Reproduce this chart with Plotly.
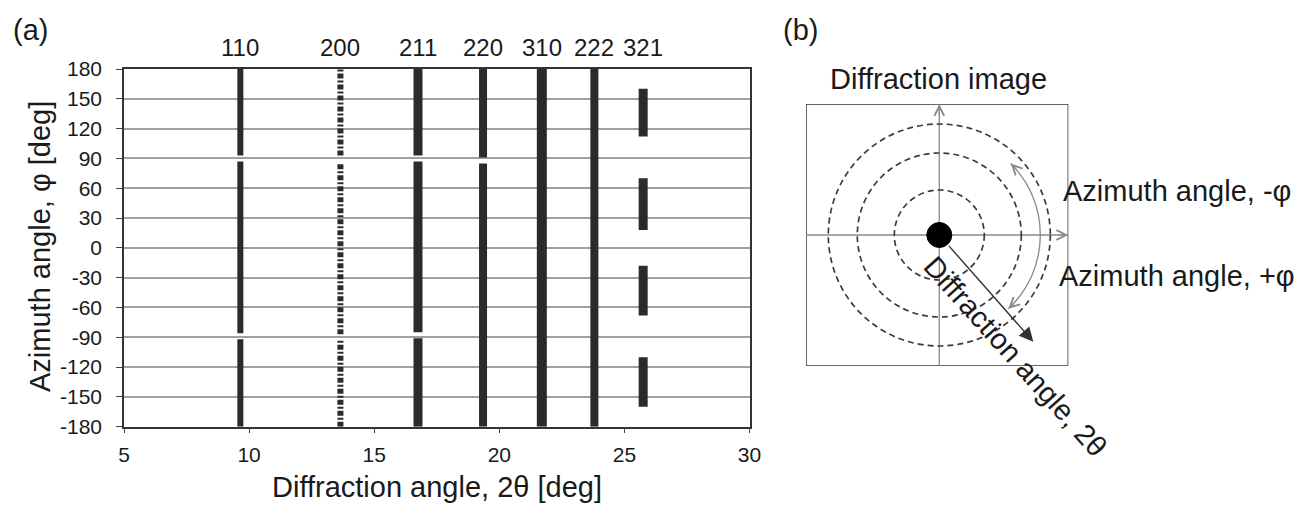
import math
import plotly.graph_objects as go

W, H = 1309, 506

# ---------------- data (panel a) ----------------
peak_labels = ["110", "200", "211", "220", "310", "222", "321"]
peak_two_theta = [9.65, 13.65, 16.75, 19.35, 21.7, 23.8, 25.75]
# azimuth ranges (deg) where diffraction spots are present, per ring
phi_segments = [
    [(-180, -92), (-86, 87), (93, 180)],                       # 110
    [(-180, -93), (-87, 86), (93, 180)],                       # 200
    [(-180, -91), (-85, 87), (93, 180)],                       # 211
    [(-180, 85), (91, 180)],                                   # 220
    [(-180, 180)],                                             # 310
    [(-180, 180)],                                             # 222
    [(-160, -110), (-68, -18), (18, 70), (112, 160)],          # 321
]
x_ticks = [5, 10, 15, 20, 25, 30]
y_ticks = [-180, -150, -120, -90, -60, -30, 0, 30, 60, 90, 120, 150, 180]
y_tick_text = ["-180", "-150", "-120", "-90", "-60", "-30", "0", "30", "60", "90", "120", "150", "180"]

# ---------------- data (panel b, schematic) ----------------
ring_radii = [45, 82, 111]
spot_radius = 12.5

# styles
band_widths = [6, 6, 9, 8, 10, 8, 9]
band_dash = ["solid", "5px,2px,2px,2px", "solid", "solid", "solid", "solid", "solid"]
INK = "#2b2b2b"
FONT = "Arial, Liberation Sans, sans-serif"


def px(x):
    return x / W


def py(y):
    return 1 - y / H


fig = go.Figure()

for lab, tt, segs, w, d in zip(peak_labels, peak_two_theta, phi_segments, band_widths, band_dash):
    xs, ys = [], []
    for a, b in segs:
        xs += [tt, tt, None]
        ys += [a, b, None]
    fig.add_trace(go.Scatter(x=xs, y=ys, mode="lines", name=lab,
                             line=dict(color=INK, width=w, dash=d),
                             showlegend=False, hoverinfo="skip", xaxis="x", yaxis="y"))

# ---------------- panel b geometry (pixel-like units around centre) ----------------
cx, cy = 939.3, 235.0
bx0, bx1, by0, by1 = 806.0, 1068.3, 104.0, 365.7
xr = [bx0 - cx, bx1 - cx]
yr = [cy - by1, cy - by0]

fig.add_trace(go.Scatter(x=[0], y=[0], mode="markers", marker=dict(size=1, opacity=0),
                         showlegend=False, hoverinfo="skip", xaxis="x2", yaxis="y2"))

shapes = []
# box
shapes.append(dict(type="rect", xref="x2", yref="y2", x0=xr[0], x1=xr[1], y0=yr[0], y1=yr[1],
                   line=dict(color="#333333", width=1.5)))
# cross lines
shapes.append(dict(type="line", xref="x2", yref="y2", x0=0, x1=0, y0=yr[0], y1=yr[1],
                   line=dict(color="#8a8a8a", width=1.3)))
shapes.append(dict(type="line", xref="x2", yref="y2", x0=xr[0], x1=xr[1], y0=0, y1=0,
                   line=dict(color="#8a8a8a", width=1.3)))
# dashed rings
for r in ring_radii:
    shapes.append(dict(type="circle", xref="x2", yref="y2", x0=-r, x1=r, y0=-r, y1=r,
                       line=dict(color="#3c3c3c", width=1.7, dash="6px,4px")))
# azimuth arc
ra = 101.0
t1, t2 = math.radians(45), math.radians(-47)
k = 4 / 3 * math.tan((t1 - t2) / 4)
P0 = (ra * math.cos(t1), ra * math.sin(t1))
P3 = (ra * math.cos(t2), ra * math.sin(t2))
P1 = (P0[0] + k * ra * math.sin(t1), P0[1] - k * ra * math.cos(t1))
P2 = (P3[0] - k * ra * math.sin(t2), P3[1] + k * ra * math.cos(t2))
shapes.append(dict(type="path", xref="x2", yref="y2",
                   path=f"M {P0[0]},{P0[1]} C {P1[0]},{P1[1]} {P2[0]},{P2[1]} {P3[0]},{P3[1]}",
                   line=dict(color="#8a8a8a", width=1.3)))
# beam spot
shapes.append(dict(type="circle", xref="x2", yref="y2", x0=-spot_radius, x1=spot_radius,
                   y0=-spot_radius, y1=spot_radius, fillcolor="black", line=dict(color="black", width=1)))

annotations = []
# arrow heads of cross lines
annotations.append(dict(xref="x2", yref="y2", axref="x2", ayref="y2", x=0, y=yr[1], ax=0, ay=yr[1] - 12,
                        text="", showarrow=True, arrowhead=5, arrowsize=1.6, arrowwidth=1.2,
                        arrowcolor="#8a8a8a"))
annotations.append(dict(xref="x2", yref="y2", axref="x2", ayref="y2", x=xr[1], y=0, ax=xr[1] - 12, ay=0,
                        text="", showarrow=True, arrowhead=5, arrowsize=1.6, arrowwidth=1.2,
                        arrowcolor="#8a8a8a"))
# arc arrow heads (tangent directions)
d1 = (-math.sin(t1), math.cos(t1))
annotations.append(dict(xref="x2", yref="y2", axref="x2", ayref="y2", x=P0[0], y=P0[1],
                        ax=P0[0] - 10 * d1[0], ay=P0[1] - 10 * d1[1],
                        text="", showarrow=True, arrowhead=5, arrowsize=1.6, arrowwidth=1.2,
                        arrowcolor="#8a8a8a"))
d2 = (math.sin(t2), -math.cos(t2))
annotations.append(dict(xref="x2", yref="y2", axref="x2", ayref="y2", x=P3[0], y=P3[1],
                        ax=P3[0] - 10 * d2[0], ay=P3[1] - 10 * d2[1],
                        text="", showarrow=True, arrowhead=5, arrowsize=1.6, arrowwidth=1.2,
                        arrowcolor="#8a8a8a"))
# diffraction angle arrow
ex, ey = 1033.3 - cx, cy - 341.7
L = math.hypot(ex, ey)
annotations.append(dict(xref="x2", yref="y2", axref="x2", ayref="y2", x=ex, y=ey,
                        ax=spot_radius * ex / L, ay=spot_radius * ey / L,
                        text="", showarrow=True, arrowhead=2, arrowsize=2, arrowwidth=1.4,
                        arrowcolor="#333333"))

# texts
def txt(s, x, y, size, **kw):
    d = dict(xref="paper", yref="paper", x=px(x), y=py(y), text=s, showarrow=False,
             xanchor="center", yanchor="middle",
             font=dict(family=FONT, size=size, color="#1a1a1a"))
    d.update(kw)
    annotations.append(d)


txt("(a)", 30, 30, 29)
txt("(b)", 800, 30, 29)
txt("Diffraction angle, 2θ [deg]", 437, 487, 29)
txt("Azimuth angle, φ [deg]", 40, 247, 29, textangle=-90)
txt("Diffraction image", 938, 79, 29)
txt("Azimuth angle, -φ", 1061, 191, 29, xanchor="left")
txt("Azimuth angle, +φ", 1057, 276, 29, xanchor="left")
txt("Diffraction angle, 2θ", 1015, 356, 29, textangle=48)

for lab, tt in zip(peak_labels, peak_two_theta):
    annotations.append(dict(xref="x", yref="paper", x=tt, y=py(47), text=lab, showarrow=False,
                            xanchor="center", yanchor="middle",
                            font=dict(family=FONT, size=24, color="#1a1a1a")))

fig.update_layout(
    width=W, height=H,
    margin=dict(l=0, r=0, t=0, b=0, autoexpand=False),
    paper_bgcolor="white", plot_bgcolor="white",
    font=dict(family=FONT, color="#1a1a1a"),
    xaxis=dict(domain=[px(124), px(749.5)], range=[5, 30], tickvals=x_ticks,
               ticks="outside", ticklen=5, tickwidth=1.3, tickcolor="#444",
               showline=True, linecolor="#333", linewidth=1.5, mirror=True,
               showgrid=False, zeroline=False, tickfont=dict(size=21),
               ticklabelstandoff=3, anchor="y", automargin=False),
    yaxis=dict(domain=[py(426.7), py(69)], range=[-180, 180], tickvals=y_ticks, ticktext=y_tick_text,
               ticks="outside", ticklen=6, tickwidth=1.3, tickcolor="#444",
               showline=True, linecolor="#333", linewidth=1.5, mirror=True,
               showgrid=True, gridcolor="#a0a0a0", gridwidth=1.5, zeroline=False,
               tickfont=dict(size=21), ticklabelstandoff=10, anchor="x", automargin=False),
    xaxis2=dict(domain=[px(bx0), px(bx1)], range=xr, visible=False, anchor="y2",
                fixedrange=True, automargin=False),
    yaxis2=dict(domain=[py(by1), py(by0)], range=yr, visible=False, anchor="x2",
                fixedrange=True, automargin=False),
    shapes=shapes,
    annotations=annotations,
    showlegend=False,
)

fig.write_html("out.html", config={"displayModeBar": False},
               post_script="document.body.style.margin='0';document.body.style.padding='0';")
